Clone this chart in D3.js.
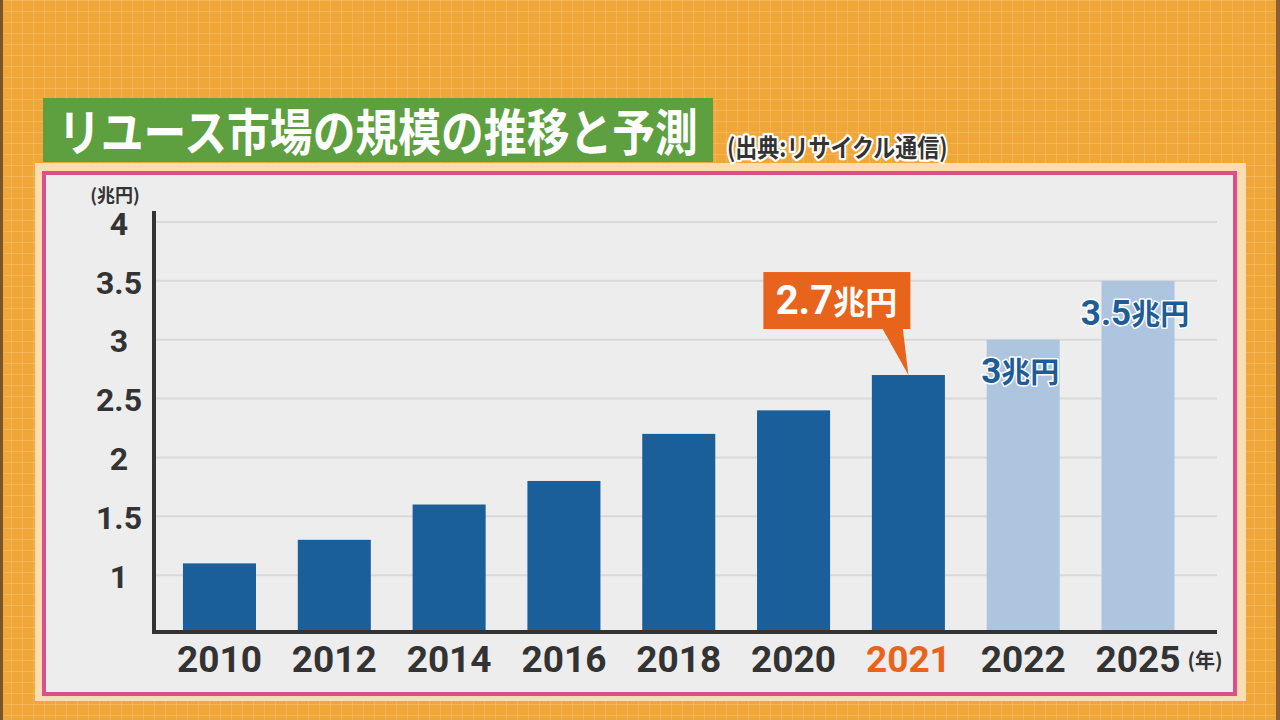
<!DOCTYPE html>
<html>
<head>
<meta charset="utf-8">
<script src="https://cdn.jsdelivr.net/npm/d3@7"></script>
<style>
  body { margin: 0; background: #EFA83A; }
  svg { display: block; }
  .num { font-family: Roboto, "Noto Sans CJK JP", sans-serif; font-weight: 700; }
  .jp { font-family: "Noto Sans CJK JP", sans-serif; font-weight: 700; }
</style>
</head>
<body>
<div id="chart"></div>
<script>
const years = ['2010','2012','2014','2016','2018','2020','2021','2022','2025'];
const values = [1.1, 1.3, 1.6, 1.8, 2.2, 2.4, 2.7, 3.0, 3.5];
const forecast = [false, false, false, false, false, false, false, true, true];
const yTicks = [1, 1.5, 2, 2.5, 3, 3.5, 4];
const callouts = [
  {year: '2021', num: '2.7', unit: '兆円'},
  {year: '2022', num: '3', unit: '兆円'},
  {year: '2025', num: '3.5', unit: '兆円'}
];
const highlightYear = '2021';

const w = 1280, h = 720;
const svg = d3.select('#chart').append('svg').attr('width', w).attr('height', h);

// background grid pattern
const defs = svg.append('defs');
const pat = defs.append('pattern').attr('id', 'grid')
  .attr('width', 11).attr('height', 11).attr('patternUnits', 'userSpaceOnUse');
pat.append('rect').attr('width', 11).attr('height', 11).attr('fill', '#EFA73A');
pat.append('path').attr('d', 'M0 0.5H11M0.5 0V11')
  .attr('stroke', 'rgba(255,225,170,0.22)').attr('stroke-width', 1);
svg.append('rect').attr('width', w).attr('height', h).attr('fill', 'url(#grid)');
svg.append('rect').attr('x', 0).attr('width', 3).attr('height', h).attr('fill', '#7A5228');
svg.append('rect').attr('x', 1276).attr('width', 4).attr('height', h).attr('fill', '#8A5E30');

// panel
svg.append('rect').attr('x', 35).attr('y', 163).attr('width', 1211).attr('height', 538)
  .attr('fill', '#FADDB2');
svg.append('rect').attr('x', 44).attr('y', 173).attr('width', 1191).attr('height', 521)
  .attr('fill', '#EDEDED').attr('stroke', '#D9508A').attr('stroke-width', 4);

// title
svg.append('rect').attr('x', 43).attr('y', 98).attr('width', 670).attr('height', 64)
  .attr('fill', '#5E9F3F');
svg.append('text').attr('class', 'jp')
  .attr('transform', 'translate(58,151) scale(1,1.17)')
  .attr('font-size', 42.8).attr('fill', '#FFFFFF')
  .text('リユース市場の規模の推移と予測');
svg.append('text').attr('class', 'jp')
  .attr('transform', 'translate(727,157) scale(1,1.15)')
  .attr('font-size', 22).attr('fill', '#333333')
  .attr('stroke', '#FFFFFF').attr('stroke-width', 4).attr('paint-order', 'stroke')
  .attr('stroke-linejoin', 'round')
  .text('(出典:リサイクル通信)');

// scales
const x = d3.scaleBand().domain(years).range([146, 1211.5])
  .paddingInner(0.364).paddingOuter(0.322);
const y = d3.scaleLinear().domain([0.5, 4]).range([634, 222]);

// gridlines
svg.append('g').selectAll('line').data(yTicks).enter().append('line')
  .attr('x1', 154).attr('x2', 1217)
  .attr('y1', d => y(d)).attr('y2', d => y(d))
  .attr('stroke', '#D9D9D9').attr('stroke-width', 2);

// bars
svg.append('g').selectAll('rect').data(years).enter().append('rect')
  .attr('x', d => x(d))
  .attr('width', x.bandwidth())
  .attr('y', (d, i) => y(values[i]))
  .attr('height', (d, i) => y(0.5) - y(values[i]))
  .attr('fill', (d, i) => forecast[i] ? '#ADC5DF' : '#1B5F9A');

// y axis
const yAxis = d3.axisLeft(y).tickValues(yTicks).tickSize(0).tickPadding(0)
  .tickFormat(d => d3.format('')(d));
const gy = svg.append('g').attr('transform', 'translate(119,2)').call(yAxis);
gy.select('.domain').remove();
gy.selectAll('text').attr('class', 'num').attr('font-size', 32)
  .attr('fill', '#333333').attr('text-anchor', 'middle');
svg.append('line').attr('x1', 154).attr('x2', 154).attr('y1', 211).attr('y2', 634)
  .attr('stroke', '#333333').attr('stroke-width', 4);
svg.append('text').attr('class', 'jp').attr('x', 115).attr('y', 202)
  .attr('text-anchor', 'middle').attr('font-size', 18).attr('fill', '#333333')
  .text('(兆円)');

// x axis
const xAxis = d3.axisBottom(x).tickSize(0).tickPadding(0);
const gx = svg.append('g').attr('transform', 'translate(0,672)').call(xAxis);
gx.select('.domain').remove();
gx.selectAll('text').attr('class', 'num').attr('font-size', 37).attr('dy', 0)
  .attr('fill', d => d === highlightYear ? '#E8641C' : '#333333');
svg.append('line').attr('x1', 152).attr('x2', 1217).attr('y1', 632).attr('y2', 632)
  .attr('stroke', '#333333').attr('stroke-width', 4);
svg.append('text').attr('class', 'jp').attr('x', 1205).attr('y', 668)
  .attr('text-anchor', 'middle').attr('font-size', 20).attr('fill', '#333333')
  .text('(年)');

// callout for 2021
const c0 = callouts[0];
const i0 = years.indexOf(c0.year);
const tipX = x(c0.year) + x.bandwidth() / 2, tipY = y(values[i0]);
const g0 = svg.append('g');
g0.append('path')
  .attr('d', `M${tipX - 28},${tipY - 50}L${tipX - 6},${tipY - 50}L${tipX},${tipY}Z`)
  .attr('fill', '#E8641C');
g0.append('rect').attr('x', tipX - 145).attr('y', tipY - 103)
  .attr('width', 147).attr('height', 57).attr('fill', '#E8641C');
const t0 = g0.append('text').attr('x', tipX - 72).attr('y', tipY - 61)
  .attr('text-anchor', 'middle').attr('fill', '#FFFFFF');
t0.append('tspan').attr('class', 'num').attr('font-size', 40).text(c0.num);
t0.append('tspan').attr('class', 'jp').attr('font-size', 32).text(c0.unit);

// forecast labels
const labelY = {'2022': 383, '2025': 325};
callouts.slice(1).forEach(c => {
  const cx = x(c.year) + x.bandwidth() / 2;
  const t = svg.append('text').attr('x', cx - 3).attr('y', labelY[c.year])
    .attr('text-anchor', 'middle').attr('fill', '#1E5C96')
    .attr('stroke', '#FFFFFF').attr('stroke-width', 3).attr('paint-order', 'stroke')
    .attr('stroke-linejoin', 'round');
  t.append('tspan').attr('class', 'num').attr('font-size', 35).text(c.num);
  t.append('tspan').attr('class', 'jp').attr('font-size', 29).text(c.unit);
});
</script>
</body>
</html>
